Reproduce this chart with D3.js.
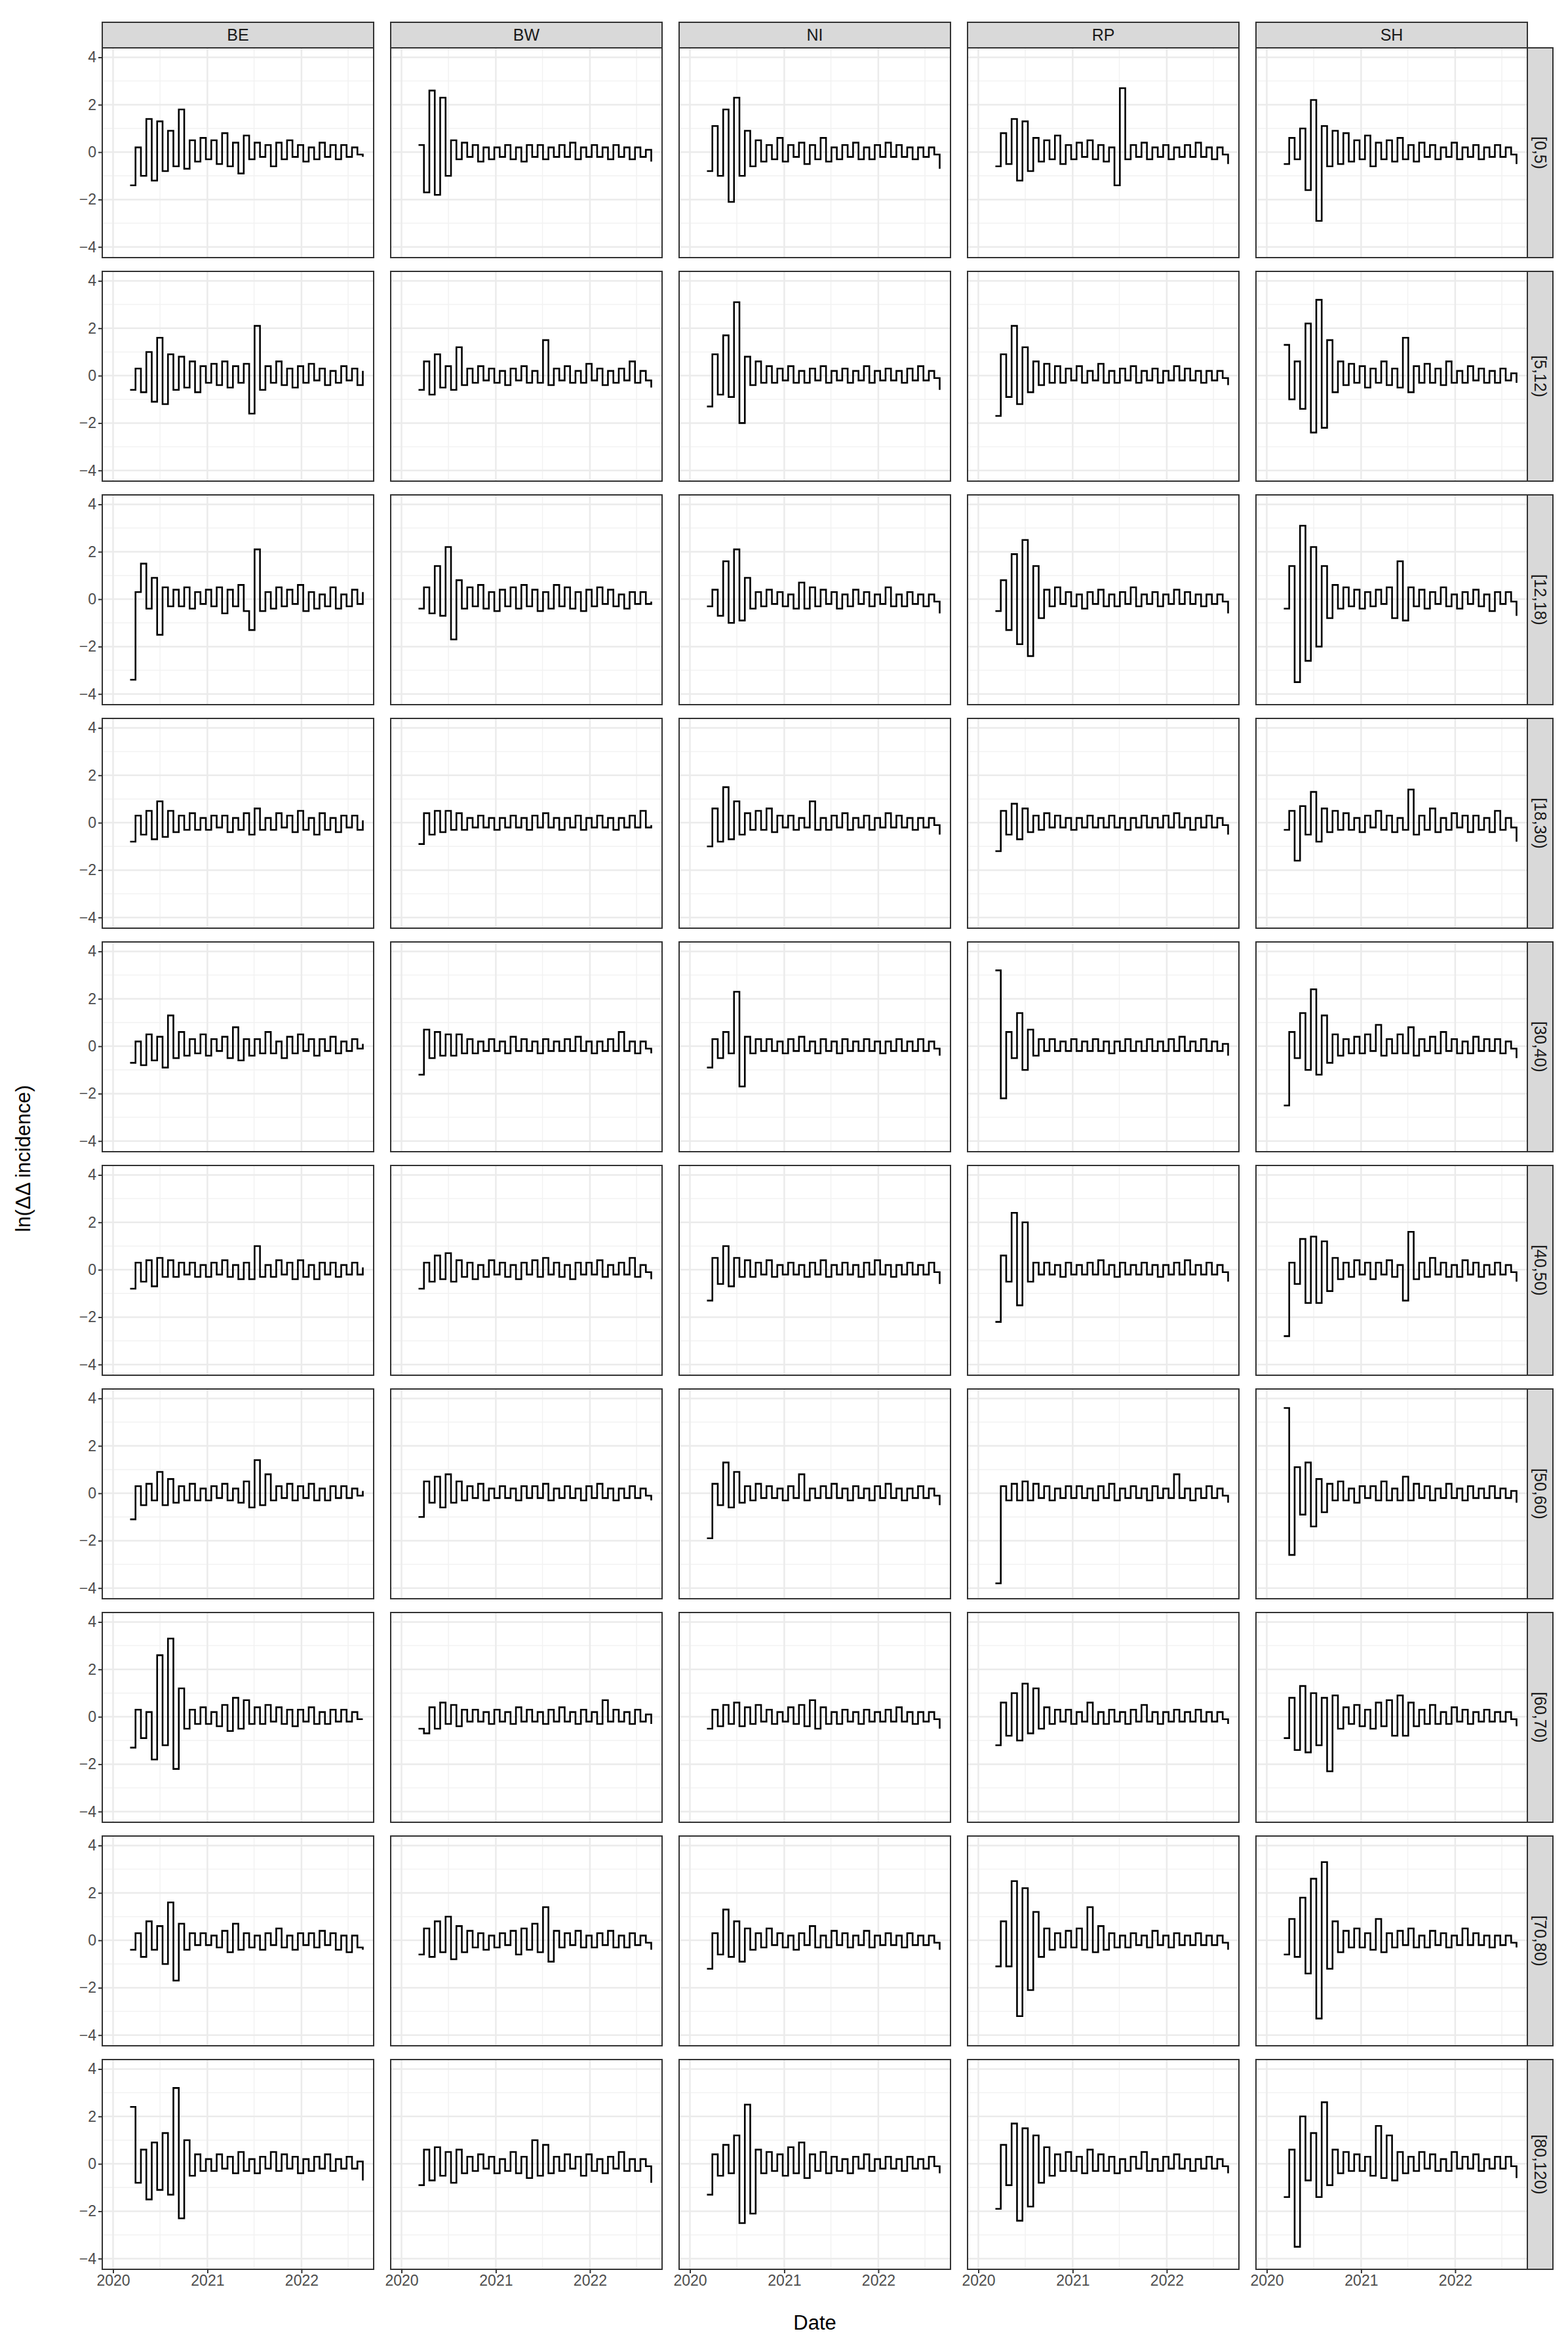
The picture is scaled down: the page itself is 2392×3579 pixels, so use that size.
<!DOCTYPE html>
<html><head><meta charset="utf-8">
<script src="https://cdn.jsdelivr.net/npm/d3@7"></script>
<style>body{margin:0;background:#fff}</style>
</head><body>
<div id="chart"></div>
<script>
const regions = ["BE", "BW", "NI", "RP", "SH"];
const ageGroups = ["[0,5)", "[5,12)", "[12,18)", "[18,30)", "[30,40)", "[40,50)", "[50,60)", "[60,70)", "[70,80)", "[80,120)"];
const yTicks = [-4, -2, 0, 2, 4];
const xTickYears = [2020, 2021, 2022];
const startDate = "2020-03-07"; // first observation; one value every 3 weeks

const BE = [
  [-1.4,0.2,-1.0,1.4,-1.2,1.3,-0.8,0.9,-0.6,1.8,-0.7,0.5,-0.4,0.6,-0.3,0.5,-0.5,0.8,-0.6,0.4,-0.9,0.7,-0.3,0.4,-0.2,0.3,-0.6,0.4,-0.3,0.5,-0.2,0.3,-0.4,0.2,-0.3,0.4,-0.2,0.3,-0.3,0.3,-0.2,0.2,-0.1,-0.2],
  [-0.6,0.3,-0.7,1.0,-1.1,1.6,-1.2,0.9,-0.6,0.8,-0.5,0.6,-0.7,0.4,-0.3,0.5,-0.4,0.6,-0.5,0.4,-0.3,0.5,-1.6,2.1,-0.6,0.4,-0.3,0.6,-0.4,0.3,-0.5,0.4,-0.3,0.5,-0.2,0.3,-0.4,0.2,-0.3,0.4,-0.2,0.3,-0.4,0.2],
  [-3.4,0.3,1.5,-0.4,0.9,-1.5,0.5,-0.3,0.4,-0.3,0.5,-0.4,0.3,-0.2,0.4,-0.3,0.5,-0.6,0.4,-0.3,0.6,-0.5,-1.3,2.1,-0.5,0.3,-0.4,0.5,-0.3,0.4,-0.2,0.6,-0.5,0.3,-0.4,0.2,-0.3,0.5,-0.4,0.2,-0.3,0.4,-0.2,0.3],
  [-0.8,0.3,-0.5,0.5,-0.7,0.9,-0.6,0.5,-0.4,0.3,-0.3,0.4,-0.3,0.2,-0.3,0.3,-0.2,0.3,-0.4,0.2,-0.3,0.4,-0.5,0.6,-0.3,0.2,-0.3,0.4,-0.2,0.3,-0.4,0.5,-0.3,0.2,-0.5,0.4,-0.3,0.2,-0.4,0.3,-0.2,0.3,-0.3,0.1],
  [-0.7,0.2,-0.8,0.5,-0.6,0.4,-0.9,1.3,-0.5,0.6,-0.4,0.3,-0.3,0.5,-0.4,0.3,-0.2,0.4,-0.5,0.8,-0.6,0.3,-0.4,0.3,-0.3,0.6,-0.3,0.2,-0.5,0.4,-0.3,0.5,-0.2,0.3,-0.4,0.3,-0.2,0.4,-0.3,0.2,-0.2,0.3,-0.1,0.1],
  [-0.8,0.3,-0.5,0.4,-0.7,0.5,-0.3,0.4,-0.3,0.3,-0.2,0.3,-0.3,0.2,-0.3,0.3,-0.2,0.4,-0.3,0.2,-0.4,0.3,-0.4,1.0,-0.3,0.2,-0.3,0.4,-0.2,0.3,-0.4,0.4,-0.3,0.2,-0.4,0.3,-0.2,0.3,-0.3,0.2,-0.2,0.3,-0.2,0.1],
  [-1.1,0.3,-0.5,0.4,-0.3,0.9,-0.5,0.6,-0.4,0.3,-0.3,0.4,-0.3,0.2,-0.3,0.3,-0.2,0.4,-0.3,0.2,-0.4,0.5,-0.6,1.4,-0.5,0.8,-0.3,0.3,-0.2,0.4,-0.3,0.3,-0.2,0.4,-0.3,0.2,-0.3,0.3,-0.2,0.3,-0.2,0.2,-0.1,0.1],
  [-1.3,0.3,-0.9,0.2,-1.8,2.6,-1.2,3.3,-2.2,1.2,-0.5,0.3,-0.3,0.4,-0.3,0.2,-0.4,0.5,-0.6,0.8,-0.5,0.7,-0.3,0.4,-0.3,0.5,-0.2,0.4,-0.3,0.3,-0.4,0.3,-0.2,0.4,-0.3,0.2,-0.3,0.3,-0.2,0.3,-0.2,0.2,-0.1,-0.1],
  [-0.4,0.3,-0.7,0.8,-0.4,0.6,-1.0,1.6,-1.7,0.7,-0.4,0.3,-0.2,0.3,-0.2,0.2,-0.3,0.4,-0.5,0.7,-0.4,0.3,-0.3,0.2,-0.4,0.3,-0.2,0.5,-0.3,0.2,-0.4,0.3,-0.2,0.3,-0.3,0.4,-0.2,0.3,-0.4,0.2,-0.5,0.2,-0.3,-0.4],
  [2.4,-0.8,0.6,-1.5,0.9,-1.1,1.3,-1.3,3.2,-2.3,1.0,-0.5,0.4,-0.3,0.2,-0.3,0.4,-0.2,0.3,-0.4,0.5,-0.3,0.2,-0.4,0.3,-0.2,0.5,-0.3,0.4,-0.2,0.3,-0.4,0.2,-0.3,0.3,-0.2,0.4,-0.3,0.2,-0.2,0.3,-0.2,0.1,-0.7]
];
const BW = [
  [0.3,-1.7,2.6,-1.8,2.3,-1.0,0.5,-0.3,0.4,-0.2,0.3,-0.4,0.2,-0.3,0.2,-0.2,0.3,-0.3,0.2,-0.4,0.3,-0.2,0.3,-0.3,0.2,-0.2,0.3,-0.2,0.4,-0.3,0.2,-0.2,0.3,-0.2,0.2,-0.3,0.3,-0.2,0.2,-0.3,0.2,-0.2,0.1,-0.4],
  [-0.6,0.6,-0.8,0.9,-0.5,0.4,-0.6,1.2,-0.4,0.3,-0.3,0.4,-0.2,0.3,-0.3,0.2,-0.4,0.3,-0.2,0.4,-0.3,0.2,-0.3,1.5,-0.4,0.3,-0.2,0.4,-0.3,0.2,-0.3,0.5,-0.2,0.3,-0.4,0.2,-0.3,0.3,-0.2,0.6,-0.3,0.2,-0.2,-0.5],
  [-0.4,0.5,-0.6,1.4,-0.7,2.2,-1.7,0.8,-0.4,0.5,-0.3,0.6,-0.4,0.3,-0.5,0.4,-0.3,0.5,-0.4,0.6,-0.3,0.4,-0.5,0.3,-0.4,0.6,-0.3,0.5,-0.4,0.3,-0.5,0.4,-0.3,0.5,-0.2,0.4,-0.3,0.2,-0.4,0.3,-0.2,0.3,-0.2,-0.1],
  [-0.9,0.4,-0.5,0.5,-0.4,0.5,-0.3,0.4,-0.3,0.2,-0.2,0.3,-0.2,0.2,-0.3,0.2,-0.2,0.3,-0.2,0.2,-0.3,0.3,-0.2,0.4,-0.2,0.2,-0.3,0.2,-0.2,0.3,-0.3,0.2,-0.2,0.3,-0.2,0.2,-0.3,0.2,-0.2,0.3,-0.2,0.5,-0.2,-0.1],
  [-1.2,0.7,-0.5,0.6,-0.4,0.5,-0.4,0.5,-0.3,0.3,-0.3,0.2,-0.2,0.3,-0.2,0.2,-0.3,0.4,-0.2,0.3,-0.2,0.2,-0.3,0.3,-0.2,0.2,-0.2,0.3,-0.2,0.4,-0.2,0.2,-0.3,0.2,-0.2,0.3,-0.2,0.6,-0.2,0.2,-0.3,0.2,-0.1,-0.3],
  [-0.8,0.3,-0.5,0.6,-0.4,0.7,-0.5,0.4,-0.3,0.3,-0.4,0.2,-0.3,0.4,-0.2,0.3,-0.3,0.2,-0.4,0.3,-0.2,0.4,-0.3,0.5,-0.2,0.3,-0.3,0.2,-0.4,0.3,-0.2,0.3,-0.2,0.4,-0.3,0.2,-0.2,0.3,-0.2,0.5,-0.3,0.2,-0.1,-0.4],
  [-1.0,0.5,-0.4,0.7,-0.6,0.8,-0.4,0.5,-0.3,0.3,-0.2,0.4,-0.3,0.2,-0.2,0.3,-0.2,0.2,-0.3,0.3,-0.2,0.3,-0.2,0.4,-0.3,0.2,-0.2,0.3,-0.2,0.2,-0.3,0.3,-0.2,0.4,-0.2,0.2,-0.3,0.2,-0.2,0.3,-0.2,0.2,-0.1,-0.3],
  [-0.5,-0.7,0.4,-0.5,0.6,-0.3,0.5,-0.4,0.3,-0.2,0.3,-0.2,0.2,-0.3,0.3,-0.2,0.2,-0.3,0.4,-0.2,0.3,-0.2,0.2,-0.3,0.3,-0.2,0.4,-0.2,0.2,-0.3,0.3,-0.2,0.2,-0.3,0.7,-0.2,0.3,-0.2,0.2,-0.3,0.3,-0.2,0.1,-0.3],
  [-0.6,0.5,-0.7,0.8,-0.5,1.0,-0.8,0.6,-0.5,0.4,-0.3,0.3,-0.4,0.2,-0.3,0.3,-0.2,0.4,-0.6,0.5,-0.4,0.7,-0.5,1.4,-0.9,0.4,-0.3,0.3,-0.2,0.4,-0.3,0.2,-0.3,0.3,-0.2,0.4,-0.3,0.2,-0.3,0.3,-0.2,0.2,-0.1,-0.4],
  [-0.9,0.6,-0.7,0.7,-0.5,0.5,-0.8,0.6,-0.4,0.3,-0.3,0.4,-0.2,0.3,-0.4,0.2,-0.3,0.5,-0.4,0.3,-0.6,1.0,-0.5,0.8,-0.4,0.3,-0.3,0.4,-0.2,0.3,-0.5,0.4,-0.3,0.2,-0.4,0.3,-0.2,0.5,-0.3,0.2,-0.3,0.2,-0.1,-0.8]
];
const NI = [
  [-0.8,1.1,-1.0,1.8,-2.1,2.3,-1.0,0.9,-0.6,0.5,-0.4,0.3,-0.3,0.6,-0.4,0.3,-0.2,0.4,-0.5,0.3,-0.3,0.6,-0.4,0.2,-0.3,0.3,-0.2,0.4,-0.3,0.2,-0.3,0.3,-0.2,0.4,-0.2,0.3,-0.2,0.2,-0.3,0.2,-0.2,0.2,-0.1,-0.7],
  [-1.3,0.9,-0.8,1.7,-0.9,3.1,-2.0,0.8,-0.4,0.6,-0.3,0.4,-0.3,0.3,-0.2,0.4,-0.3,0.2,-0.3,0.3,-0.2,0.4,-0.3,0.2,-0.2,0.3,-0.3,0.2,-0.2,0.4,-0.3,0.2,-0.2,0.3,-0.2,0.2,-0.3,0.3,-0.2,0.4,-0.2,0.2,-0.1,-0.6],
  [-0.3,0.4,-0.7,1.6,-1.0,2.1,-0.9,0.9,-0.4,0.3,-0.3,0.4,-0.2,0.3,-0.3,0.2,-0.4,0.7,-0.4,0.5,-0.3,0.4,-0.2,0.3,-0.4,0.2,-0.3,0.4,-0.2,0.3,-0.3,0.2,-0.2,0.5,-0.3,0.2,-0.3,0.3,-0.2,0.2,-0.3,0.2,-0.1,-0.6],
  [-1.0,0.6,-0.8,1.5,-0.7,0.9,-0.5,0.4,-0.3,0.5,-0.3,0.6,-0.4,0.3,-0.2,0.3,-0.3,0.2,-0.2,0.9,-0.3,0.2,-0.3,0.3,-0.2,0.4,-0.3,0.2,-0.2,0.3,-0.3,0.2,-0.2,0.4,-0.2,0.3,-0.2,0.2,-0.3,0.2,-0.2,0.2,-0.1,-0.5],
  [-0.9,0.3,-0.5,0.6,-0.3,2.3,-1.7,0.4,-0.3,0.3,-0.2,0.3,-0.2,0.2,-0.3,0.3,-0.2,0.4,-0.2,0.2,-0.3,0.3,-0.2,0.2,-0.3,0.3,-0.2,0.2,-0.2,0.3,-0.2,0.2,-0.3,0.2,-0.2,0.3,-0.2,0.2,-0.2,0.3,-0.2,0.2,-0.1,-0.4],
  [-1.3,0.5,-0.6,1.0,-0.7,0.5,-0.3,0.4,-0.3,0.3,-0.2,0.4,-0.3,0.2,-0.2,0.3,-0.2,0.2,-0.3,0.3,-0.2,0.4,-0.3,0.2,-0.2,0.3,-0.2,0.2,-0.3,0.3,-0.2,0.4,-0.2,0.2,-0.3,0.2,-0.2,0.3,-0.2,0.2,-0.2,0.3,-0.1,-0.6],
  [-1.9,0.4,-0.5,1.3,-0.6,0.9,-0.4,0.3,-0.3,0.4,-0.2,0.3,-0.2,0.2,-0.3,0.3,-0.2,0.8,-0.3,0.2,-0.2,0.3,-0.2,0.4,-0.2,0.2,-0.3,0.3,-0.2,0.2,-0.3,0.3,-0.2,0.4,-0.2,0.2,-0.3,0.2,-0.2,0.3,-0.2,0.2,-0.1,-0.5],
  [-0.5,0.3,-0.4,0.5,-0.3,0.6,-0.4,0.4,-0.3,0.5,-0.2,0.3,-0.3,0.2,-0.2,0.4,-0.3,0.5,-0.4,0.7,-0.5,0.4,-0.3,0.2,-0.3,0.3,-0.2,0.2,-0.3,0.3,-0.2,0.2,-0.2,0.3,-0.2,0.4,-0.2,0.2,-0.3,0.2,-0.2,0.2,-0.1,-0.5],
  [-1.2,0.3,-0.6,1.3,-0.7,0.8,-0.9,0.5,-0.4,0.3,-0.3,0.5,-0.2,0.3,-0.3,0.2,-0.4,0.3,-0.2,0.6,-0.3,0.2,-0.3,0.4,-0.2,0.3,-0.3,0.2,-0.2,0.4,-0.3,0.2,-0.2,0.3,-0.2,0.2,-0.3,0.3,-0.2,0.2,-0.2,0.2,-0.1,-0.4],
  [-1.3,0.4,-0.5,0.8,-0.4,1.2,-2.5,2.5,-2.1,0.6,-0.4,0.5,-0.3,0.4,-0.5,0.7,-0.4,0.9,-0.6,0.4,-0.3,0.5,-0.4,0.3,-0.3,0.2,-0.4,0.3,-0.2,0.4,-0.3,0.2,-0.2,0.3,-0.2,0.2,-0.3,0.3,-0.2,0.2,-0.2,0.3,-0.1,-0.4]
];
const RP = [
  [-0.6,0.8,-0.5,1.4,-1.2,1.3,-0.8,0.6,-0.4,0.5,-0.3,0.7,-0.5,0.3,-0.3,0.4,-0.2,0.5,-0.3,0.3,-0.4,0.2,-1.4,2.7,-0.3,0.3,-0.2,0.4,-0.3,0.2,-0.2,0.3,-0.3,0.2,-0.2,0.3,-0.2,0.4,-0.2,0.2,-0.3,0.2,-0.1,-0.5],
  [-1.7,0.9,-0.9,2.1,-1.2,1.2,-0.7,0.6,-0.4,0.5,-0.3,0.4,-0.3,0.3,-0.2,0.4,-0.3,0.2,-0.2,0.5,-0.3,0.2,-0.3,0.3,-0.2,0.4,-0.3,0.2,-0.2,0.3,-0.3,0.2,-0.2,0.4,-0.2,0.3,-0.2,0.2,-0.3,0.2,-0.2,0.2,-0.1,-0.4],
  [-0.5,0.8,-1.3,1.9,-1.9,2.5,-2.4,1.4,-0.8,0.4,-0.3,0.5,-0.2,0.3,-0.3,0.2,-0.4,0.3,-0.2,0.4,-0.3,0.2,-0.3,0.3,-0.2,0.5,-0.3,0.2,-0.2,0.3,-0.3,0.2,-0.2,0.4,-0.2,0.3,-0.2,0.2,-0.3,0.2,-0.2,0.2,-0.1,-0.6],
  [-1.2,0.5,-0.5,0.8,-0.7,0.6,-0.4,0.3,-0.3,0.4,-0.2,0.3,-0.2,0.2,-0.3,0.2,-0.2,0.3,-0.2,0.2,-0.2,0.3,-0.2,0.2,-0.3,0.2,-0.2,0.3,-0.2,0.2,-0.2,0.3,-0.2,0.4,-0.2,0.2,-0.3,0.2,-0.2,0.3,-0.2,0.2,-0.1,-0.5],
  [3.2,-2.2,0.6,-0.5,1.4,-1.0,0.7,-0.4,0.3,-0.2,0.3,-0.2,0.2,-0.2,0.3,-0.2,0.2,-0.2,0.3,-0.2,0.2,-0.3,0.2,-0.2,0.3,-0.2,0.2,-0.2,0.3,-0.2,0.2,-0.2,0.3,-0.2,0.4,-0.2,0.2,-0.2,0.3,-0.2,0.2,-0.2,0.1,-0.4],
  [-2.2,0.6,-0.5,2.4,-1.5,2.0,-0.5,0.3,-0.2,0.3,-0.2,0.2,-0.3,0.3,-0.2,0.2,-0.2,0.3,-0.2,0.4,-0.2,0.2,-0.3,0.3,-0.2,0.2,-0.2,0.3,-0.2,0.2,-0.3,0.2,-0.2,0.3,-0.2,0.4,-0.2,0.2,-0.2,0.3,-0.2,0.2,-0.1,-0.5],
  [-3.8,0.3,-0.3,0.4,-0.3,0.5,-0.3,0.4,-0.2,0.3,-0.3,0.2,-0.2,0.3,-0.2,0.3,-0.2,0.2,-0.3,0.3,-0.2,0.4,-0.3,0.2,-0.2,0.3,-0.2,0.2,-0.3,0.3,-0.2,0.2,-0.2,0.8,-0.2,0.2,-0.3,0.2,-0.2,0.3,-0.2,0.2,-0.1,-0.4],
  [-1.2,0.6,-0.8,1.0,-1.0,1.4,-0.7,1.2,-0.5,0.4,-0.3,0.3,-0.2,0.3,-0.3,0.2,-0.2,0.6,-0.3,0.2,-0.3,0.3,-0.2,0.2,-0.3,0.3,-0.2,0.5,-0.2,0.2,-0.3,0.2,-0.2,0.3,-0.2,0.2,-0.2,0.3,-0.2,0.2,-0.2,0.2,-0.1,-0.3],
  [-1.1,0.8,-1.1,2.5,-3.2,2.2,-2.1,1.2,-0.7,0.5,-0.4,0.3,-0.3,0.4,-0.3,0.5,-0.4,1.4,-0.5,0.6,-0.4,0.3,-0.3,0.2,-0.3,0.3,-0.2,0.2,-0.3,0.4,-0.2,0.2,-0.3,0.3,-0.2,0.2,-0.2,0.3,-0.2,0.2,-0.2,0.2,-0.1,-0.4],
  [-1.9,0.8,-0.9,1.7,-2.4,1.5,-1.8,1.2,-0.8,0.7,-0.5,0.4,-0.3,0.5,-0.3,0.3,-0.4,0.6,-0.3,0.4,-0.3,0.3,-0.4,0.2,-0.3,0.3,-0.2,0.5,-0.3,0.2,-0.3,0.3,-0.2,0.4,-0.2,0.2,-0.3,0.2,-0.2,0.3,-0.2,0.2,-0.1,-0.4]
];
const SH = [
  [-0.5,0.6,-0.3,1.0,-1.6,2.2,-2.9,1.1,-0.6,0.9,-0.5,0.8,-0.4,0.5,-0.3,0.7,-0.6,0.4,-0.3,0.5,-0.4,0.6,-0.3,0.3,-0.4,0.4,-0.2,0.3,-0.3,0.2,-0.2,0.4,-0.3,0.2,-0.2,0.3,-0.3,0.2,-0.2,0.3,-0.2,0.2,-0.1,-0.5],
  [1.3,-1.0,0.6,-1.4,2.2,-2.4,3.2,-2.2,1.5,-0.7,0.6,-0.4,0.5,-0.3,0.4,-0.5,0.3,-0.3,0.6,-0.4,0.3,-0.5,1.6,-0.7,0.4,-0.3,0.5,-0.3,0.3,-0.4,0.6,-0.3,0.2,-0.3,0.4,-0.2,0.3,-0.3,0.2,-0.3,0.3,-0.2,0.1,-0.3],
  [-0.4,1.4,-3.5,3.1,-2.6,2.2,-2.0,1.4,-0.8,0.6,-0.4,0.5,-0.3,0.4,-0.4,0.3,-0.3,0.4,-0.2,0.5,-0.8,1.6,-0.9,0.5,-0.3,0.4,-0.4,0.3,-0.2,0.5,-0.3,0.2,-0.4,0.3,-0.2,0.4,-0.3,0.2,-0.5,0.3,-0.2,0.3,-0.1,-0.7],
  [-0.3,0.5,-1.6,0.7,-0.5,1.3,-0.8,0.6,-0.4,0.5,-0.3,0.4,-0.3,0.2,-0.4,0.3,-0.2,0.5,-0.3,0.3,-0.4,0.2,-0.3,1.4,-0.5,0.3,-0.3,0.6,-0.4,0.2,-0.3,0.4,-0.2,0.3,-0.4,0.3,-0.3,0.2,-0.4,0.5,-0.3,0.2,-0.2,-0.8],
  [-2.5,0.6,-0.5,1.4,-1.0,2.4,-1.2,1.3,-0.7,0.5,-0.4,0.3,-0.3,0.4,-0.3,0.5,-0.2,0.9,-0.4,0.3,-0.3,0.5,-0.3,0.8,-0.4,0.3,-0.2,0.4,-0.3,0.6,-0.2,0.3,-0.3,0.2,-0.3,0.4,-0.2,0.3,-0.2,0.3,-0.3,0.2,-0.1,-0.5],
  [-2.8,0.3,-0.6,1.3,-1.4,1.4,-1.4,1.2,-0.9,0.5,-0.4,0.3,-0.3,0.4,-0.2,0.3,-0.4,0.3,-0.2,0.4,-0.3,0.2,-1.3,1.6,-0.4,0.3,-0.3,0.5,-0.2,0.3,-0.3,0.2,-0.3,0.4,-0.2,0.3,-0.3,0.2,-0.2,0.3,-0.2,0.2,-0.1,-0.5],
  [3.6,-2.6,1.1,-0.9,1.3,-1.4,0.6,-0.8,0.4,-0.3,0.5,-0.3,0.2,-0.4,0.3,-0.2,0.3,-0.3,0.5,-0.3,0.2,-0.3,0.7,-0.3,0.4,-0.2,0.3,-0.3,0.2,-0.2,0.4,-0.2,0.2,-0.3,0.3,-0.2,0.2,-0.2,0.3,-0.2,0.2,-0.2,0.1,-0.4],
  [-0.9,0.8,-1.4,1.3,-1.5,1.0,-1.2,0.8,-2.3,0.9,-0.5,0.4,-0.3,0.5,-0.4,0.3,-0.5,0.6,-0.4,0.7,-0.8,0.9,-0.8,0.6,-0.4,0.3,-0.3,0.5,-0.3,0.2,-0.3,0.4,-0.2,0.3,-0.3,0.2,-0.2,0.3,-0.2,0.2,-0.2,0.2,-0.1,-0.4],
  [-0.6,0.9,-0.7,1.8,-1.4,2.6,-3.3,3.3,-1.2,0.8,-0.5,0.4,-0.3,0.5,-0.3,0.3,-0.4,0.9,-0.5,0.3,-0.3,0.4,-0.2,0.5,-0.3,0.2,-0.3,0.4,-0.2,0.3,-0.3,0.2,-0.2,0.5,-0.2,0.3,-0.2,0.2,-0.3,0.2,-0.2,0.2,-0.1,-0.3],
  [-1.4,0.6,-3.5,2.0,-0.7,1.3,-1.4,2.6,-0.9,0.6,-0.4,0.5,-0.3,0.4,-0.3,0.3,-0.5,1.6,-0.6,1.2,-0.7,0.5,-0.4,0.3,-0.3,0.5,-0.2,0.4,-0.3,0.2,-0.3,0.5,-0.2,0.3,-0.2,0.4,-0.3,0.2,-0.2,0.3,-0.2,0.3,-0.1,-0.6]
];
const seriesByRegion = { BE, BW, NI, RP, SH };

const W = 2392, H = 3579;
const margin = { top: 73, left: 156 };
const panelW = 414, panelH = 320, gapX = 26, gapY = 21;
const stripH = 39;

const svg = d3.select("#chart").append("svg")
  .attr("width", W).attr("height", H)
  .style("font-family", "Liberation Sans, Arial, sans-serif");

const x = d3.scaleTime()
  .domain([new Date(2019, 10, 20), new Date(2022, 9, 8)])
  .range([0, panelW]);
const y = d3.scaleLinear().domain([-4.45, 4.4]).range([panelH, 0]);

const start = d3.timeParse("%Y-%m-%d")(startDate);
const line = d3.line().curve(d3.curveStepAfter).x(d => x(d.date)).y(d => y(d.value));

// top strips
regions.forEach((r, c) => {
  const sx = margin.left + c * (panelW + gapX);
  svg.append("rect").attr("x", sx).attr("y", margin.top - stripH).attr("width", panelW).attr("height", stripH)
    .attr("fill", "#d9d9d9").attr("stroke", "#333").attr("stroke-width", 2);
  svg.append("text").attr("x", sx + panelW / 2).attr("y", margin.top - stripH / 2).attr("dy", "0.35em")
    .attr("text-anchor", "middle").attr("font-size", 25).attr("fill", "#1a1a1a").text(r);
});

ageGroups.forEach((ag, ri) => {
  const py = margin.top + ri * (panelH + gapY);
  // right strip
  const sx = margin.left + 5 * panelW + 4 * gapX;
  svg.append("rect").attr("x", sx).attr("y", py).attr("width", stripH).attr("height", panelH)
    .attr("fill", "#d9d9d9").attr("stroke", "#333").attr("stroke-width", 2);
  svg.append("text").attr("transform", `translate(${sx + stripH / 2},${py + panelH / 2}) rotate(90)`)
    .attr("dy", "0.35em").attr("text-anchor", "middle").attr("font-size", 25).attr("fill", "#1a1a1a").text(ag);

  regions.forEach((r, c) => {
    const px = margin.left + c * (panelW + gapX);
    const g = svg.append("g").attr("transform", `translate(${px},${py})`);

    // minor grid
    const minorX = [new Date(2020, 0, 1), new Date(2020, 6, 1), new Date(2021, 6, 1), new Date(2022, 6, 1)]
      .filter(d => x(d) >= 0);
    g.selectAll(".mx").data(minorX).enter().append("line")
      .attr("x1", d => x(d)).attr("x2", d => x(d)).attr("y1", 0).attr("y2", panelH)
      .attr("stroke", "#f2f2f2").attr("stroke-width", 1.5);
    g.selectAll(".my").data([-3, -1, 1, 3]).enter().append("line")
      .attr("x1", 0).attr("x2", panelW).attr("y1", d => y(d)).attr("y2", d => y(d))
      .attr("stroke", "#f2f2f2").attr("stroke-width", 1.5);
    // major grid
    g.selectAll(".gx").data(xTickYears).enter().append("line")
      .attr("x1", d => x(new Date(d, 0, 1))).attr("x2", d => x(new Date(d, 0, 1)))
      .attr("y1", 0).attr("y2", panelH).attr("stroke", "#ebebeb").attr("stroke-width", 2.5);
    g.selectAll(".gy").data(yTicks).enter().append("line")
      .attr("x1", 0).attr("x2", panelW).attr("y1", d => y(d)).attr("y2", d => y(d))
      .attr("stroke", "#ebebeb").attr("stroke-width", 2.5);

    const vals = seriesByRegion[r][ri];
    const data = vals.map((v, i) => ({ date: d3.timeDay.offset(start, i * 21), value: v }));
    g.append("path").datum(data).attr("d", line)
      .attr("fill", "none").attr("stroke", "#000").attr("stroke-width", 2.6);

    g.append("rect").attr("width", panelW).attr("height", panelH)
      .attr("fill", "none").attr("stroke", "#333").attr("stroke-width", 2);

    if (c === 0) {
      const ya = g.append("g").call(d3.axisLeft(y).tickValues(yTicks).tickSize(6).tickFormat(d => d < 0 ? "\u2212" + (-d) : d));
      ya.select(".domain").remove();
      ya.selectAll("line").attr("stroke", "#333").attr("stroke-width", 2);
      ya.selectAll("text").attr("font-size", 23).attr("fill", "#4d4d4d").attr("font-family", "Liberation Sans, Arial, sans-serif");
    }
    if (ri === ageGroups.length - 1) {
      const xa = g.append("g").attr("transform", `translate(0,${panelH})`)
        .call(d3.axisBottom(x).tickValues(xTickYears.map(yv => new Date(yv, 0, 1))).tickSize(6).tickFormat(d3.timeFormat("%Y")));
      xa.select(".domain").remove();
      xa.selectAll("line").attr("stroke", "#333").attr("stroke-width", 2);
      xa.selectAll("text").attr("font-size", 23).attr("fill", "#4d4d4d").attr("font-family", "Liberation Sans, Arial, sans-serif");
    }
  });
});

const bottom = margin.top + 10 * panelH + 9 * gapY;
svg.append("text").attr("x", margin.left + (5 * panelW + 4 * gapX) / 2).attr("y", bottom + 92)
  .attr("text-anchor", "middle").attr("font-size", 31).attr("fill", "#000").text("Date");
svg.append("text").attr("transform", `translate(46,${(margin.top + bottom) / 2}) rotate(-90)`)
  .attr("text-anchor", "middle").attr("font-size", 31).attr("fill", "#000").text("ln(\u0394\u0394 incidence)");
</script>
</body></html>
